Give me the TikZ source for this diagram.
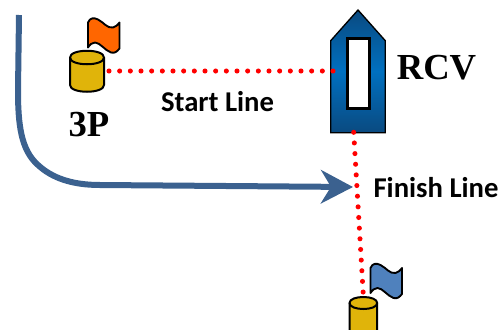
\documentclass[tikz,border=0pt]{standalone}
\usepackage{fontspec}
\setmainfont{Liberation Serif}
\newfontfamily\calib{Carlito}
\usetikzlibrary{arrows.meta}
\definecolor{gold}{HTML}{E0B40A}
\definecolor{orangeflag}{HTML}{FF6600}
\definecolor{blueflag}{HTML}{4F81BD}
\definecolor{routeblue}{HTML}{3B618F}
\definecolor{boatdark}{HTML}{0A4A80}
\definecolor{boatmid}{HTML}{0070C0}
\tikzset{
  x=0.75pt,y=-0.75pt,
  outline/.style={draw=black,line width=1.5pt,line join=round},
  buoybody/.style={outline,fill=gold},
  flagshape/.style={outline,line width=1.4pt},
  redline/.style={draw=red,line width=3.8pt,line cap=round,dash pattern=on 0pt off 8pt},
  route/.style={draw=routeblue,line width=4.5pt,-{Stealth[length=24pt,width=25pt,inset=7.5pt]}},
  serifbold/.style={font=\fontsize{27.5}{30}\selectfont\bfseries,text=black,inner sep=0pt},
  sanslabel/.style={font=\calib\fontsize{21.5}{24}\selectfont\bfseries,text=black,inner sep=0pt},
  boathull/.style={left color=boatdark,right color=boatdark,middle color=boatmid,shading angle=0},
  flagpic/.pic={
    \draw[pic actions,flagshape] (0,4) .. controls (2,-1) and (6,-1) .. (10,1)
      .. controls (16,4) and (19,10) .. (25,9) .. controls (28,8) and (29,7) .. (31.5,4)
      -- (31.5,30) .. controls (29,33) and (27,35) .. (23,34)
      .. controls (17,32) and (12,24) .. (7,24) .. controls (4,24) and (2,26) .. (0,29) -- cycle;
  },
}
\begin{document}
\begin{tikzpicture}
\useasboundingbox (0,0) rectangle (504,329);
\clip (0,0) rectangle (504,329);
% named anchors
\coordinate (routeStart) at (19,15);
\coordinate (routeEnd) at (353,187);
\coordinate (startA) at (109,71);
\coordinate (startB) at (334,71);
\coordinate (finishA) at (353.7,132.3);
\coordinate (finishB) at (363.2,293);
% route
\draw[route] (routeStart) -- (18,90) .. controls (18,125) and (21,150) .. (38,165)
  .. controls (52,178) and (72,185) .. (100,185) -- (routeEnd);
% boat
\path[boathull] (330.7,40.7) -- (358,10) -- (385.3,40.7) -- (385.3,132.7) -- (330.7,132.7) -- cycle;
\draw[black,line width=1pt,line join=miter] (330.7,40.7) -- (358,10) -- (385.3,40.7) -- (385.3,132.7) -- (330.7,132.7) -- cycle;
\draw[fill=white,draw=black,line width=2.2pt] (347.5,38.7) rectangle (369.3,108.5);
% orange buoy
\draw[buoybody] (70,57.5) -- (70,85) .. controls (70,94) and (104,94) .. (104,85) -- (104,57.5)
  .. controls (104,48.5) and (70,48.5) .. (70,57.5) -- cycle;
\draw[outline] (70,57.5) .. controls (70,66.5) and (104,66.5) .. (104,57.5);
\pic[fill=orangeflag] at (88,18.5) {flagpic};
% blue buoy
\draw[buoybody] (349.5,303) -- (349.5,340) -- (377.2,340) -- (377.2,303)
  .. controls (377.2,295) and (349.5,295) .. (349.5,303) -- cycle;
\draw[outline] (349.5,303) .. controls (349.5,311) and (377.2,311) .. (377.2,303);
\pic[fill=blueflag] at (370.5,264) {flagpic};
% lines
\draw[redline] (startA) -- (startB);
\draw[redline] (finishA) -- (finishB);
% labels
\node[serifbold] (rcv) at (436.5,68) {RCV};
\node[serifbold] (threeP) at (89,124.5) {3P};
\node[sanslabel] (startLabel) at (217.5,102) {Start Line};
\node[sanslabel] (finishLabel) at (436,188) {Finish Line};
\end{tikzpicture}
\end{document}
